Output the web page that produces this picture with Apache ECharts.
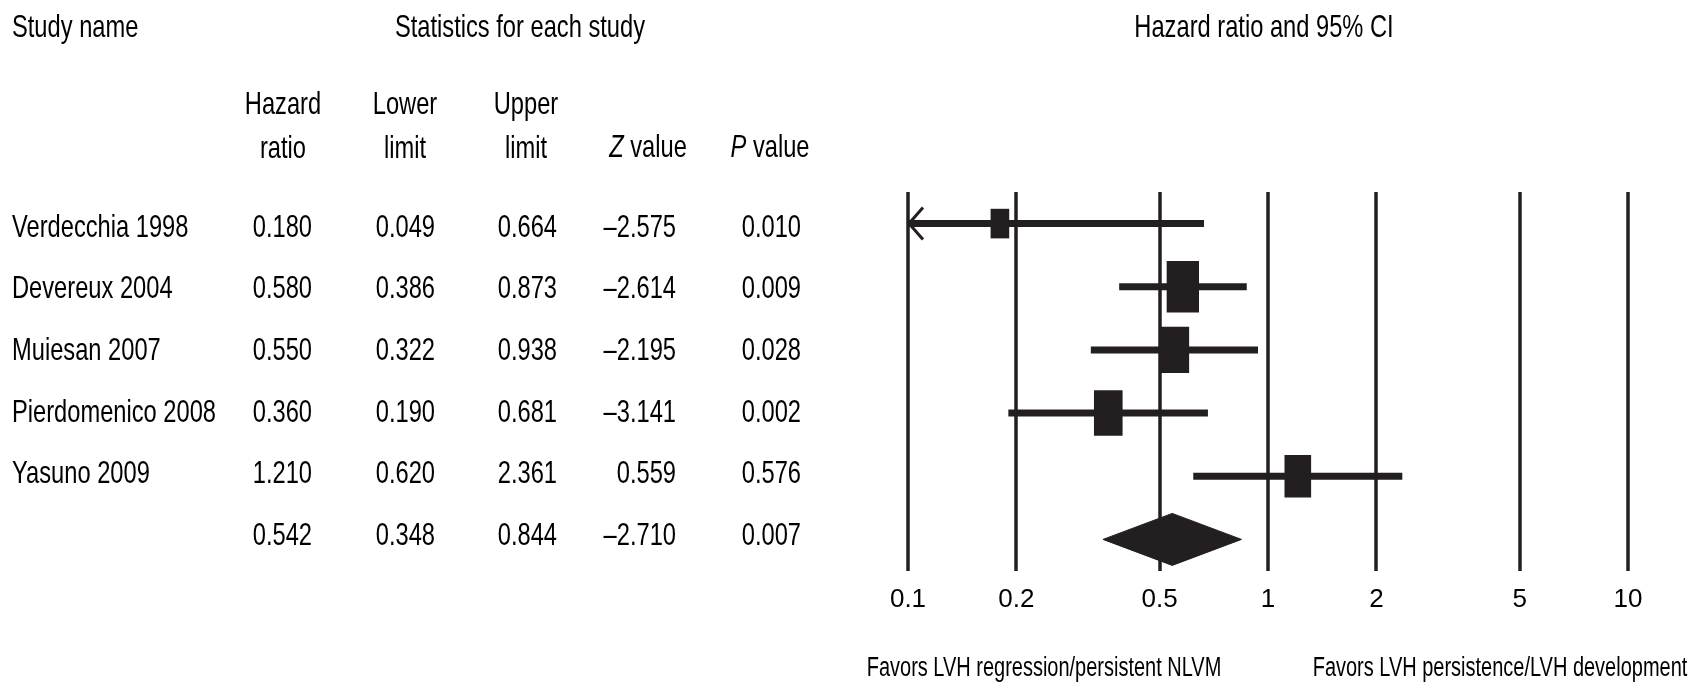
<!DOCTYPE html>
<html><head><meta charset="utf-8">
<script src="https://cdn.jsdelivr.net/npm/echarts@6/dist/echarts.min.js"></script>
<style>html,body{margin:0;padding:0;background:#fff}#c{width:1704px;height:682px}</style>
</head><body><div id="c"></div>
<script>
// ---- data ----
const studies = ['Verdecchia 1998', 'Devereux 2004', 'Muiesan 2007', 'Pierdomenico 2008', 'Yasuno 2009', ''];
const hazardRatio = [0.180, 0.580, 0.550, 0.360, 1.210, 0.542];
const lowerLimit = [0.049, 0.386, 0.322, 0.190, 0.620, 0.348];
const upperLimit = [0.664, 0.873, 0.938, 0.681, 2.361, 0.844];
const zValue = [-2.575, -2.614, -2.195, -3.141, 0.559, -2.710];
const pValue = [0.010, 0.009, 0.028, 0.002, 0.576, 0.007];
const relWeight = [9.2, 27.7, 22.6, 21.7, 18.8, 0];
const isSummary = [0, 0, 0, 0, 0, 1];
const axisTicks = [0.1, 0.2, 0.5, 1, 2, 5, 10];

// ---- style / layout ----
const FONT = '"Liberation Sans", Arial, sans-serif';
const FS = 32;          // table font size
const SX = 0.74;        // horizontal condensing of the text
const INK = '#231f20';
const AX_MIN = Math.log10(axisTicks[0]);
const AX_MAX = Math.log10(axisTicks[axisTicks.length - 1]);
const fmt3 = v => v.toFixed(3);
const fmtZ = v => (v < 0 ? '\u2013' : '') + Math.abs(v).toFixed(3);

const chart = echarts.init(document.getElementById('c'), null, {renderer: 'canvas'});

const forestData = hazardRatio.map((hr, i) => [
  Math.log10(hr), i, Math.log10(lowerLimit[i]), Math.log10(upperLimit[i]), relWeight[i], isSummary[i]
]);
const tableData = studies.map((s, i) => [0, i]);

function renderForest(params, api) {
  const i = api.value(1);
  const c = api.coord([api.value(0), i]);
  const xc = c[0], y = c[1];
  const lo = api.value(2), hi = api.value(3);
  const xMin = api.coord([AX_MIN, i])[0];
  const xl = api.coord([Math.max(lo, AX_MIN), i])[0];
  const xh = api.coord([hi, i])[0];
  const children = [];
  if (api.value(5)) {
    const hh = 26;
    children.push({type: 'polygon', shape: {points: [[xl, y], [xc, y - hh], [xh, y], [xc, y + hh]]},
      style: {fill: INK, stroke: INK, lineWidth: 1}});
  } else {
    children.push({type: 'line', shape: {x1: xl, y1: y, x2: xh, y2: y}, style: {stroke: INK, lineWidth: 7}});
    if (lo < AX_MIN) {
      children.push({type: 'polyline', shape: {points: [[xMin + 15, y - 16], [xMin + 1, y], [xMin + 15, y + 16]]},
        style: {stroke: INK, lineWidth: 3, fill: null}});
    }
    const h = 9.75 * Math.sqrt(api.value(4));
    const w = 0.63 * h;
    children.push({type: 'rect', shape: {x: xc - w / 2, y: y - h / 2, width: w, height: h}, style: {fill: INK}});
  }
  return {type: 'group', children};
}

function condensed(text, x, y, size, align, extra) {
  return {type: 'text', x, y, scaleX: SX, silent: true,
    style: Object.assign({text, font: size + 'px ' + FONT, fill: '#000',
      textAlign: align || 'center', textVerticalAlign: 'middle'}, extra || {})};
}

const colRight = [312, 435, 557, 676, 801];
function renderTable(params, api) {
  const i = api.value(1);
  const y = api.coord([0, i])[1];
  const vals = [fmt3(hazardRatio[i]), fmt3(lowerLimit[i]), fmt3(upperLimit[i]), fmtZ(zValue[i]), fmt3(pValue[i])];
  const children = [condensed(studies[i], 12, y, FS, 'left')];
  vals.forEach((v, k) => children.push(condensed(v, colRight[k], y, FS, 'right')));
  return {type: 'group', children};
}

const italicRich = {
  i: {fontStyle: 'italic', fontSize: FS, fontFamily: FONT, fill: '#000'},
  n: {fontSize: FS, fontFamily: FONT, fill: '#000'}
};

chart.setOption({
  animation: false,
  backgroundColor: '#fff',
  grid: [
    {left: 908, width: 720, top: 192, height: 379},
    {left: 0, right: 0, top: 197, height: 370}
  ],
  xAxis: [
    {type: 'value', gridIndex: 0, min: AX_MIN, max: AX_MAX,
      axisLine: {show: false}, axisTick: {show: false}, splitLine: {show: false},
      axisLabel: {customValues: axisTicks.map(v => Math.log10(v)), margin: 16, fontSize: 26, fontFamily: FONT, color: '#000',
        formatter: v => String(Number(Math.pow(10, v).toPrecision(3)))}},
    {type: 'value', gridIndex: 1, min: 0, max: 1, show: false}
  ],
  yAxis: [
    {type: 'value', gridIndex: 0, min: -0.5, max: 5.5, inverse: true, show: false},
    {type: 'value', gridIndex: 1, min: -0.5, max: 5.5, inverse: true, show: false}
  ],
  series: [
    {type: 'line', xAxisIndex: 0, yAxisIndex: 0, data: [], z: 1, silent: true,
      markLine: {silent: true, symbol: ['none', 'none'], label: {show: false},
        lineStyle: {type: 'solid', width: 3.5, color: INK},
        data: axisTicks.map(v => ({xAxis: Math.log10(v)}))}},
    {type: 'custom', xAxisIndex: 0, yAxisIndex: 0, data: forestData, renderItem: renderForest, z: 3,
      encode: {x: 0, y: 1}, clip: false, silent: true},
    {type: 'custom', xAxisIndex: 1, yAxisIndex: 1, data: tableData, renderItem: renderTable, z: 3,
      encode: {x: 0, y: 1}, silent: true}
  ],
  graphic: [
    condensed('Study name', 12, 28, FS, 'left'),
    condensed('Statistics for each study', 520, 28, FS),
    condensed('Hazard ratio and 95% CI', 1264, 28, FS),
    condensed('Hazard', 283, 105, FS), condensed('ratio', 283, 149, FS),
    condensed('Lower', 405, 105, FS), condensed('limit', 405, 149, FS),
    condensed('Upper', 526, 105, FS), condensed('limit', 526, 149, FS),
    condensed('{i|Z}{n| value}', 648, 148, FS, 'center', {rich: italicRich}),
    condensed('{i|P}{n| value}', 770, 148, FS, 'center', {rich: italicRich}),
    condensed('Favors LVH regression/persistent NLVM', 1044, 669, 27),
    condensed('Favors LVH persistence/LVH development', 1500, 669, 27)
  ]
});
</script>
</body></html>
